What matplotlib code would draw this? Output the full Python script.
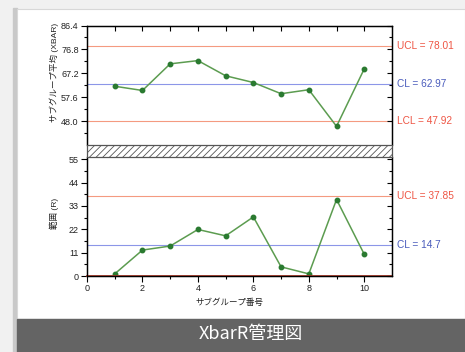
import matplotlib
matplotlib.use("Agg")
import matplotlib.pyplot as plt
from matplotlib.patches import Rectangle
import matplotlib.transforms as mtransforms

# ---- データ ----
subgroups = [1, 2, 3, 4, 5, 6, 7, 8, 9, 10]
xbar_values = [62.0, 60.3, 71.0, 72.3, 66.2, 63.5, 59.0, 60.6, 45.9, 69.0]
r_values = [1.0, 12.2, 14.1, 21.9, 18.9, 27.8, 4.3, 1.0, 36.0, 10.2]

xbar_ucl, xbar_cl, xbar_lcl = 78.01, 62.97, 47.92
r_ucl, r_cl, r_lcl = 37.85, 14.7, 0.0

xbar_ticks = [48.0, 57.6, 67.2, 76.8, 86.4]
r_ticks = [0, 11, 22, 33, 44, 55]
x_ticks = [0, 2, 4, 6, 8, 10]

title = "XbarR管理図"
xbar_label = "サブグループ平均 (XBAR)"
r_label = "範囲 (R)"
x_label = "サブグループ番号"

# ---- スタイル ----
JP = ["Liberation Sans", "Noto Sans CJK JP", "DejaVu Sans"]
plt.rcParams["font.family"] = JP
plt.rcParams["hatch.linewidth"] = 0.6
LINE_GREEN = "#5c9c50"
MARK_GREEN = "#2a7a30"
LIMIT_RED = "#f49a80"
CENTER_BLUE = "#8c96e8"
TXT_RED = "#ee5544"
TXT_BLUE = "#4a5cbc"
TXT = "#222222"

W, H = 465, 352
fig = plt.figure(figsize=(W / 100, H / 100), dpi=100, facecolor="#f1f1f1")


def fx(px):
    return px / W


def fy(py):
    return 1 - py / H


# 背景のカードと下部バナー
fig.patches.append(Rectangle((fx(13), fy(352)), fx(4), fy(8) - fy(352),
                             transform=fig.transFigure, color="#c9c9c9", zorder=-10))
fig.patches.append(Rectangle((fx(17), fy(319)), 1 - fx(17), fy(9) - fy(319),
                             transform=fig.transFigure, facecolor="white",
                             edgecolor="#d8d8d8", lw=0.8, zorder=-10))
fig.patches.append(Rectangle((fx(17), 0), 1 - fx(17), fy(319),
                             transform=fig.transFigure, color="#646464", zorder=-10))
fig.text(fx(251), fy(334), title, color="white", fontsize=13,
         family=["Noto Sans CJK JP", "DejaVu Sans"], ha="center", va="center")

L, R = 87, 392
ax_top = fig.add_axes([fx(L), fy(145), fx(R - L), fy(25.5) - fy(145)])
ax_bot = fig.add_axes([fx(L), fy(276), fx(R - L), fy(157) - fy(276)])
for a in (ax_top, ax_bot):
    a.patch.set_alpha(0)


def style_axis(ax, ylim, yticks, minor_step):
    ax.set_xlim(0, 11)
    ax.set_yticks(yticks)
    ax.set_yticks([t + minor_step for t in yticks[:-1]] +
                  [yticks[0] - minor_step], minor=True)
    ax.set_ylim(*ylim)
    ax.tick_params(axis="y", which="major", direction="out", length=4,
                   width=0.8, labelsize=6.5, pad=2, labelcolor=TXT)
    ax.tick_params(axis="y", which="minor", direction="out", length=2.5, width=0.8)
    for s in ax.spines.values():
        s.set_linewidth(0.9)
    # 右側の内向き目盛り
    tw = ax.twinx()
    tw.set_yticks(yticks)
    tw.set_yticks([t + minor_step for t in yticks[:-1]], minor=True)
    tw.set_ylim(*ylim)
    tw.tick_params(axis="y", which="both", direction="in", labelright=False,
                   length=3.5, width=0.8)
    tw.tick_params(axis="y", which="minor", length=2)
    for s in tw.spines.values():
        s.set_linewidth(0.9)
    return tw


tw_top = style_axis(ax_top, (38.4, 86.4), xbar_ticks, 4.8)
ax_top.set_yticklabels([f"{t:.1f}" for t in xbar_ticks])
tw_bot = style_axis(ax_bot, (0, 56), r_ticks, 5.5)

# 上段：平均値
for a in (ax_top, tw_top):
    a.spines["bottom"].set_visible(False)
ax_top.set_xticks(subgroups)
ax_top.tick_params(axis="x", bottom=False, top=True, labelbottom=False,
                   direction="in", length=3.5, width=0.8)

ax_top.axhline(xbar_ucl, color=LIMIT_RED, lw=0.8)
ax_top.axhline(xbar_cl, color=CENTER_BLUE, lw=0.8)
ax_top.axhline(xbar_lcl, color=LIMIT_RED, lw=0.8)
ax_top.plot(subgroups, xbar_values, color=LINE_GREEN, lw=1.1, marker="o",
            markersize=3.2, markerfacecolor=MARK_GREEN, markeredgecolor=MARK_GREEN)

trans = mtransforms.blended_transform_factory(ax_top.transAxes, ax_top.transData)
ax_top.text(1.015, xbar_ucl, f"UCL = {xbar_ucl:.2f}", color=TXT_RED,
            fontsize=7.3, va="center", transform=trans)
ax_top.text(1.015, xbar_cl, f"CL = {xbar_cl:.2f}", color=TXT_BLUE,
            fontsize=7.3, va="center", transform=trans)
ax_top.text(1.015, xbar_lcl, f"LCL = {xbar_lcl:.2f}", color=TXT_RED,
            fontsize=7.3, va="center", transform=trans)

# 下段：範囲
for a in (ax_bot, tw_bot):
    a.spines["top"].set_visible(False)
ax_bot.set_xticks(x_ticks)
ax_bot.set_xticks([1, 3, 5, 7, 9], minor=True)
ax_bot.tick_params(axis="x", which="major", direction="out", length=4,
                   width=0.8, labelsize=6.5, pad=2, labelcolor=TXT)
ax_bot.tick_params(axis="x", which="minor", direction="out", length=2.5, width=0.8)

ax_bot.axhline(r_ucl, color=LIMIT_RED, lw=0.8)
ax_bot.axhline(r_cl, color=CENTER_BLUE, lw=0.8)
ax_bot.axhline(r_lcl, color="#a83a2a", lw=1.3, clip_on=False, zorder=5)
ax_bot.plot(subgroups, r_values, color=LINE_GREEN, lw=1.1, marker="o",
            markersize=3.2, markerfacecolor=MARK_GREEN, markeredgecolor=MARK_GREEN)

trans = mtransforms.blended_transform_factory(ax_bot.transAxes, ax_bot.transData)
ax_bot.text(1.015, r_ucl, f"UCL = {r_ucl:.2f}", color=TXT_RED,
            fontsize=7.3, va="center", transform=trans)
ax_bot.text(1.015, r_cl, f"CL = {r_cl}", color=TXT_BLUE,
            fontsize=7.3, va="center", transform=trans)

# 軸の切れ目（斜線帯）
fig.patches.append(Rectangle((fx(L), fy(157)), fx(R - L), fy(145) - fy(157),
                             transform=fig.transFigure, facecolor="white",
                             edgecolor="#555555", hatch="/////", lw=0.9, zorder=3))

# 軸ラベル
fig.text(fx(54), fy(72), xbar_label, rotation=90, fontsize=6.1, color=TXT,
         ha="center", va="center")
fig.text(fx(54), fy(213), r_label, rotation=90, fontsize=6.1, color=TXT,
         ha="center", va="center")
fig.text(fx(229), fy(303), x_label, fontsize=6.1, color=TXT,
         ha="center", va="center")

fig.savefig("out.png", dpi=100, facecolor=fig.get_facecolor())
